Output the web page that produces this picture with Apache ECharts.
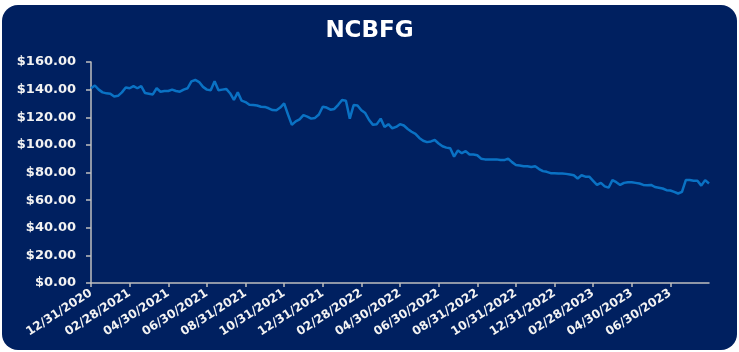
<!DOCTYPE html>
<html>
<head>
<meta charset="utf-8">
<script src="https://cdn.jsdelivr.net/npm/echarts@6/dist/echarts.min.js"></script>
<style>
html,body{margin:0;padding:0;background:#ffffff;}
#chart{width:739px;height:352px;}
</style>
</head>
<body>
<div id="chart"></div>
<script>
const chartTitle = 'NCBFG';
const tickLabels = ['12/31/2020','02/28/2021','04/30/2021','06/30/2021','08/31/2021','10/31/2021','12/31/2021','02/28/2022','04/30/2022','06/30/2022','08/31/2022','10/31/2022','12/31/2022','02/28/2023','04/30/2023','06/30/2023'];
const pointsPerTick = 10;
const prices = [
  141,143,140,138,137.3,137,135,135.5,138,141.5,
  141,142.5,141,142.5,137.5,137,136.5,141,138.5,139,
  139,140,139,138.5,140,141,146,147,145.5,142,
  140,139.5,146,139.5,140,140.5,137.4,132.5,138,132,
  131,129,128.8,128.5,127.6,127.5,126.5,125.2,125,127,
  130,122,114.5,117,118.5,121.5,120.5,119,119.5,122,
  127.6,127,125.5,126,129,132.5,132,119,128.8,128.5,
  125,123,118,114.5,115,119,113,115,112,113,
  115,114,111.5,109.5,108,105,103,102,102.5,103.5,
  101,99,98,97.5,91.5,96,94,95.5,93,93,
  92.5,90,89.5,89.5,89.5,89.5,89,89,90,87.5,
  85.5,85,84.5,84.5,84,84.5,82.5,81,80.5,79.5,
  79.5,79.3,79.3,79,78.5,78,75.7,78,77,77,
  74,71,72.5,70,69,74.5,73,71,72.5,73,
  73,72.5,72,71,70.8,71,69.5,69,68.4,67.2,
  67,66,64.8,66,74.5,74.5,74,74,70.5,74.5,
  72
];
const yTicks = { min: 0, max: 160, step: 20 };

const categories = prices.map((_, i) => (i % pointsPerTick === 0 && tickLabels[i / pointsPerTick]) ? tickLabels[i / pointsPerTick] : '');
const showTick = (i) => i % pointsPerTick === 0 && i / pointsPerTick < tickLabels.length;

const chart = echarts.init(document.getElementById('chart'), null, {renderer: 'canvas'});
chart.setOption({
  animation: false,
  backgroundColor: '#ffffff',
  graphic: [{
    type: 'rect',
    z: -10,
    silent: true,
    shape: { x: 2, y: 5, width: 735, height: 345, r: 16 },
    style: { fill: '#002060' }
  }],
  title: {
    text: chartTitle,
    left: 'center',
    top: 15,
    textStyle: { color: '#ffffff', fontFamily: 'DejaVu Sans', fontWeight: 'bold', fontSize: 23 }
  },
  grid: { left: 91, right: 30, top: 62, bottom: 69, containLabel: false },
  xAxis: {
    type: 'category',
    data: categories,
    boundaryGap: false,
    axisLine: { show: true, lineStyle: { color: '#BFBFBF', width: 1.5 } },
    axisTick: { show: true, interval: showTick, length: 4, lineStyle: { color: '#BFBFBF', width: 1.5 } },
    axisLabel: {
      interval: showTick,
      rotate: 33,
      margin: 9,
      color: '#F2F2F2',
      fontFamily: 'DejaVu Sans',
      fontWeight: 'bold',
      fontSize: 12
    },
    splitLine: { show: false }
  },
  yAxis: {
    type: 'value',
    min: yTicks.min,
    max: yTicks.max,
    interval: yTicks.step,
    axisLine: { show: true, lineStyle: { color: '#BFBFBF', width: 1.5 } },
    axisTick: { show: true, length: 5, lineStyle: { color: '#BFBFBF', width: 1.5 } },
    axisLabel: {
      margin: 15,
      color: '#F2F2F2',
      fontFamily: 'DejaVu Sans',
      fontWeight: 'bold',
      fontSize: 13,
      formatter: (v) => '$' + v.toFixed(2)
    },
    splitLine: { show: false }
  },
  series: [{
    type: 'line',
    data: prices,
    showSymbol: false,
    symbol: 'none',
    lineStyle: { color: '#0A72C4', width: 2.5 },
    itemStyle: { color: '#0A72C4' }
  }]
});
</script>
</body>
</html>
